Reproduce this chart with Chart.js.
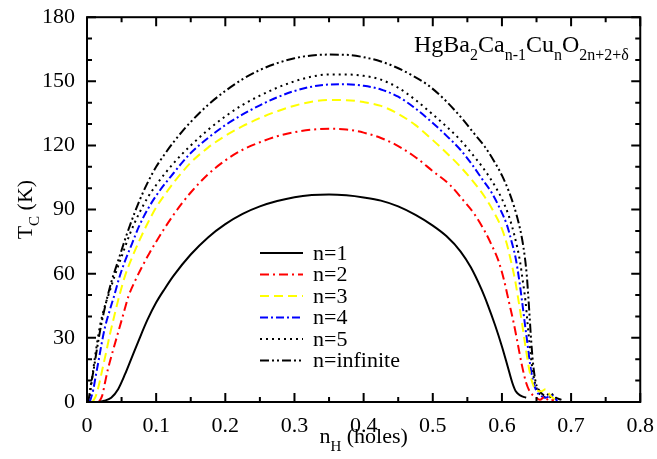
<!DOCTYPE html>
<html>
<head>
<meta charset="utf-8">
<script src="https://cdn.jsdelivr.net/npm/chart.js@4.4.0/dist/chart.umd.min.js"></script>
<style>
  html, body { margin: 0; padding: 0; background: #fff; }
  #grafico { display: block; }
</style>
</head>
<body>
<canvas id="grafico" width="657" height="459"></canvas>
<script>
// eixos
const xTicks = [0, 0.1, 0.2, 0.3, 0.4, 0.5, 0.6, 0.7, 0.8];
const xTickLabels = ['0', '0.1', '0.2', '0.3', '0.4', '0.5', '0.6', '0.7', '0.8'];
const yTicks = [0, 30, 60, 90, 120, 150, 180];
const yTickLabels = ['0', '30', '60', '90', '120', '150', '180'];

const rotulos = ['n=1', 'n=2', 'n=3', 'n=4', 'n=5', 'n=infinite'];

// n=1
const xN1 = [0.015, 0.025, 0.035, 0.045, 0.055, 0.065, 0.075, 0.0875, 0.10, 0.1125, 0.125, 0.15, 0.175, 0.20, 0.225, 0.25, 0.275, 0.30, 0.325, 0.35, 0.375, 0.40, 0.425, 0.45, 0.475, 0.50, 0.52, 0.54, 0.555, 0.57, 0.58, 0.59, 0.60, 0.608, 0.615, 0.62, 0.627, 0.635];
const tN1 = [0, 0.6, 2, 6, 13, 21, 29, 38.5, 46.5, 53, 59, 69, 77, 83.2, 88, 91.5, 94, 95.8, 96.8, 97.1, 96.7, 95.7, 94.2, 91.5, 87.5, 82.5, 77.5, 70.5, 63, 53, 45, 36, 26, 17, 9, 5, 3, 2];
// n=2
const xN2 = [0.017, 0.022, 0.026, 0.03, 0.0375, 0.045, 0.0525, 0.06, 0.07, 0.08, 0.09, 0.10, 0.1125, 0.125, 0.1375, 0.15, 0.175, 0.20, 0.225, 0.25, 0.275, 0.30, 0.325, 0.35, 0.375, 0.40, 0.425, 0.45, 0.475, 0.50, 0.525, 0.545, 0.56, 0.575, 0.585, 0.595, 0.603, 0.61, 0.617, 0.623, 0.629, 0.635, 0.641, 0.648, 0.655, 0.662, 0.668, 0.675];
const tN2 = [0, 3, 9, 15, 24, 32.5, 41, 49.5, 57, 63.5, 69.5, 75, 81.5, 87.5, 93, 98, 106.5, 113, 118, 121.5, 124.3, 126.2, 127.4, 127.8, 127.5, 126, 123.5, 119.7, 114.5, 108, 101.5, 94, 88, 80, 73.5, 66, 57, 47, 37, 27, 17, 9, 4.5, 2.5, 1, 2.5, 0.5, 1];
// n=3
const xN3 = [0.008, 0.013, 0.018, 0.022, 0.0275, 0.033, 0.04, 0.047, 0.055, 0.065, 0.075, 0.0875, 0.10, 0.1125, 0.125, 0.1375, 0.15, 0.175, 0.20, 0.225, 0.25, 0.275, 0.30, 0.325, 0.35, 0.375, 0.40, 0.425, 0.45, 0.475, 0.50, 0.52, 0.54, 0.56, 0.575, 0.588, 0.60, 0.607, 0.613, 0.619, 0.624, 0.629, 0.634, 0.639, 0.644, 0.65, 0.657, 0.663, 0.67, 0.677];
const tN3 = [0, 3, 9, 15, 23, 31.5, 41, 50, 59, 67.5, 75, 83.5, 91, 97, 102.5, 107.5, 112, 119, 124.5, 129, 132.8, 136, 138.6, 140.5, 141.3, 141.2, 140.3, 138.5, 134.8, 129.5, 122.5, 116.5, 110, 102.5, 96, 89, 81, 74, 66, 57, 47.4, 37, 26, 16, 9, 5.5, 5, 6, 3, 1];
// n=4
const xN4 = [0.004, 0.009, 0.0125, 0.016, 0.021, 0.026, 0.033, 0.04, 0.047, 0.055, 0.065, 0.075, 0.0875, 0.10, 0.1125, 0.125, 0.1375, 0.15, 0.175, 0.20, 0.225, 0.25, 0.275, 0.30, 0.325, 0.35, 0.375, 0.40, 0.425, 0.45, 0.475, 0.50, 0.52, 0.54, 0.557, 0.572, 0.585, 0.597, 0.607, 0.614, 0.62, 0.625, 0.629, 0.633, 0.637, 0.641, 0.645, 0.65, 0.656, 0.663, 0.672, 0.68];
const tN4 = [0, 5.6, 12, 18, 27, 35, 43, 50.5, 58.5, 66, 74, 82, 90, 96.5, 102, 107, 112, 116.5, 123.5, 129.5, 134.5, 138.8, 142.5, 145.5, 147.5, 148.5, 148.6, 147.9, 146.2, 142.8, 137.3, 130.5, 124.5, 118, 111, 104, 98, 90.5, 83, 75, 67, 57, 47.4, 37, 27, 17, 10, 5, 3, 2, 3, 0.5];
// n=5
const xN5 = [0.003, 0.007, 0.012, 0.019, 0.025, 0.032, 0.04, 0.05, 0.0625, 0.075, 0.0875, 0.10, 0.1125, 0.125, 0.1375, 0.15, 0.175, 0.20, 0.225, 0.25, 0.275, 0.30, 0.325, 0.35, 0.375, 0.40, 0.425, 0.45, 0.475, 0.50, 0.52, 0.54, 0.557, 0.575, 0.59, 0.60, 0.61, 0.618, 0.626, 0.63, 0.634, 0.637, 0.64, 0.643, 0.647, 0.652, 0.658, 0.665, 0.673, 0.682];
const tN5 = [0, 10, 22, 36, 44, 51, 59, 68, 79, 88, 95.5, 101.5, 106.8, 111.6, 116, 120, 127.3, 133.6, 139, 143.3, 147, 150, 152.2, 153.2, 153.2, 152.6, 150.8, 147, 141.3, 134.5, 128.8, 122.5, 116, 108.5, 101, 95, 87, 78, 66, 57, 47.4, 37, 27, 18, 10, 5, 3, 2, 2.5, 0.5];
// n=infinite
const xInf = [0.002, 0.005, 0.009, 0.014, 0.019, 0.024, 0.029, 0.036, 0.045, 0.055, 0.0625, 0.075, 0.0875, 0.10, 0.1125, 0.125, 0.1375, 0.15, 0.163, 0.175, 0.20, 0.225, 0.25, 0.275, 0.30, 0.325, 0.35, 0.375, 0.40, 0.425, 0.446, 0.47, 0.494, 0.52, 0.542, 0.56, 0.575, 0.588, 0.60, 0.61, 0.618, 0.624, 0.629, 0.633, 0.636, 0.638, 0.64, 0.642, 0.645, 0.649, 0.655, 0.662, 0.67, 0.678, 0.686];
const tInf = [0, 7, 14, 24, 33.5, 41.5, 48.5, 57, 66, 76, 83, 93.5, 102.5, 110, 116, 121.5, 126.5, 131, 135.3, 139, 145.5, 151, 155.3, 158.5, 160.8, 162.1, 162.5, 162.4, 161.3, 159.3, 156.7, 152.8, 148, 140.5, 132.7, 125.5, 119.5, 113, 106, 98.5, 91, 84, 76.5, 68, 59, 50, 40, 30, 18, 9, 5, 3, 4, 2, 1];

const FONTE = "'Liberation Serif', 'Times New Roman', serif";

function pontos(xs, ts) {
  return xs.map((x, i) => ({ x: x, y: ts[i] }));
}

function serie(label, xs, ts, cor, tracejado) {
  return {
    label: label,
    data: pontos(xs, ts),
    borderColor: cor,
    borderWidth: 2,
    borderDash: tracejado,
    pointRadius: 0,
    fill: false,
    cubicInterpolationMode: 'monotone'
  };
}

// texto com subscritos: [[texto, ehSub], ...]
function larguraPartes(ctx, partes, tam, tamSub) {
  let w = 0;
  partes.forEach(p => {
    ctx.font = (p[1] ? tamSub : tam) + 'px ' + FONTE;
    w += ctx.measureText(p[0]).width;
  });
  return w;
}

function desenhaPartes(ctx, partes, x, y, tam, tamSub, desloc) {
  let cx = x;
  partes.forEach(p => {
    ctx.font = (p[1] ? tamSub : tam) + 'px ' + FONTE;
    ctx.fillText(p[0], cx, p[1] ? y + desloc : y);
    cx += ctx.measureText(p[0]).width;
  });
}

const molduraPlugin = {
  id: 'moldura',
  afterDraw(chart) {
    const ctx = chart.ctx;
    const a = chart.chartArea;
    const sx = chart.scales.x;
    const sy = chart.scales.y;
    ctx.save();
    ctx.strokeStyle = '#000';
    ctx.fillStyle = '#000';

    // marcas para dentro, nos quatro lados
    ctx.lineWidth = 2;
    ctx.beginPath();
    for (let i = 0; i <= 16; i++) {
      const px = sx.getPixelForValue(i * 0.05);
      const len = i % 2 === 0 ? 9 : 5;
      ctx.moveTo(px, a.bottom); ctx.lineTo(px, a.bottom - len);
      ctx.moveTo(px, a.top); ctx.lineTo(px, a.top + len);
    }
    for (let i = 0; i <= 18; i++) {
      const py = sy.getPixelForValue(i * 10);
      const len = i % 3 === 0 ? 9 : 5;
      ctx.moveTo(a.left, py); ctx.lineTo(a.left + len, py);
      ctx.moveTo(a.right, py); ctx.lineTo(a.right - len, py);
    }
    ctx.stroke();
    ctx.strokeRect(a.left, a.top, a.right - a.left, a.bottom - a.top);

    // legenda
    ctx.textBaseline = 'middle';
    ctx.textAlign = 'left';
    chart.data.datasets.forEach((ds, i) => {
      const yy = 253 + i * 21.5;
      ctx.save();
      ctx.strokeStyle = ds.borderColor;
      ctx.lineWidth = 2;
      ctx.setLineDash(ds.borderDash || []);
      ctx.beginPath();
      ctx.moveTo(260, yy);
      ctx.lineTo(303, yy);
      ctx.stroke();
      ctx.restore();
      ctx.font = '22px ' + FONTE;
      ctx.fillText(ds.label, 313, yy + 1);
    });

    // formula
    ctx.textBaseline = 'alphabetic';
    desenhaPartes(ctx, [['HgBa', 0], ['2', 1], ['Ca', 0], ['n-1', 1], ['Cu', 0], ['n', 1], ['O', 0], ['2n+2+\u03b4', 1]], 414, 52, 24, 16, 8);

    // titulo do eixo x
    const px = [['n', 0], ['H', 1], [' (holes)', 0]];
    const wx = larguraPartes(ctx, px, 22, 15);
    desenhaPartes(ctx, px, (a.left + a.right) / 2 - wx / 2, 443, 22, 15, 8);

    // titulo do eixo y
    const py = [['T', 0], ['C', 1], [' (K)', 0]];
    const wy = larguraPartes(ctx, py, 22, 15);
    ctx.translate(32, (a.top + a.bottom) / 2);
    ctx.rotate(-Math.PI / 2);
    desenhaPartes(ctx, py, -wy / 2, 0, 22, 15, 7);

    ctx.restore();
  }
};

const ctx = document.getElementById('grafico').getContext('2d');

new Chart(ctx, {
  type: 'line',
  data: {
    datasets: [
      serie(rotulos[0], xN1, tN1, '#000000', []),
      serie(rotulos[1], xN2, tN2, '#ff0000', [9, 4, 2, 4]),
      serie(rotulos[2], xN3, tN3, '#ffff00', [9, 5]),
      serie(rotulos[3], xN4, tN4, '#0000ff', [8, 3, 2, 3]),
      serie(rotulos[4], xN5, tN5, '#000000', [2, 4]),
      serie(rotulos[5], xInf, tInf, '#000000', [9, 3, 2, 3, 2, 3])
    ]
  },
  options: {
    responsive: false,
    animation: false,
    devicePixelRatio: 1,
    layout: { padding: { top: 15, right: 15, left: 0, bottom: 0 } },
    plugins: {
      legend: { display: false },
      tooltip: { enabled: false }
    },
    scales: {
      x: {
        type: 'linear',
        min: 0,
        max: 0.8,
        afterBuildTicks: s => { s.ticks = xTicks.map(v => ({ value: v })); },
        afterFit: s => { s.height = 57; },
        ticks: {
          color: '#000',
          padding: 3,
          maxRotation: 0,
          font: { family: FONTE, size: 22 },
          callback: (v, i) => xTickLabels[i]
        },
        grid: { display: false },
        border: { display: false }
      },
      y: {
        min: 0,
        max: 180,
        afterBuildTicks: s => { s.ticks = yTicks.map(v => ({ value: v })); },
        afterFit: s => { s.width = 87; },
        ticks: {
          color: '#000',
          padding: 4,
          font: { family: FONTE, size: 22 },
          callback: (v, i) => yTickLabels[i]
        },
        grid: { display: false },
        border: { display: false }
      }
    }
  },
  plugins: [molduraPlugin]
});
</script>
</body>
</html>
